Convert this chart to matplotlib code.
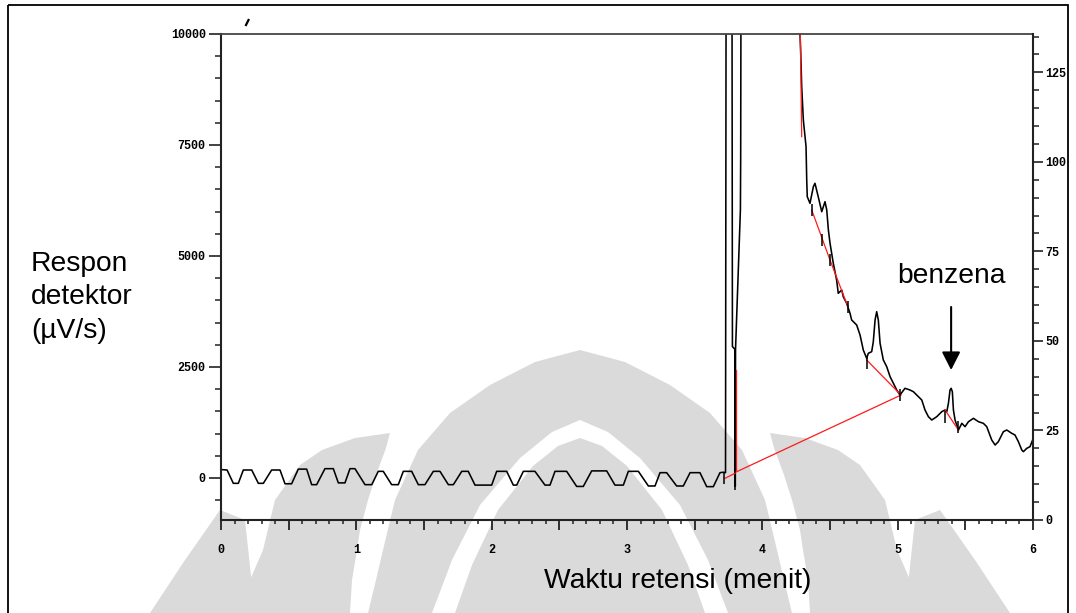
import matplotlib
matplotlib.use("Agg")
import matplotlib.pyplot as plt
from matplotlib.patches import Polygon, Rectangle
from matplotlib.lines import Line2D
from matplotlib.ticker import MultipleLocator, FuncFormatter
from matplotlib.font_manager import FontProperties

# ---------------------------------------------------------------
# Chromatogram data: retention time (min) vs detector response (uV/s)
# ---------------------------------------------------------------
# Baseline ripple before the solvent front
base_t = [0.000, 0.045, 0.091, 0.128, 0.165, 0.227, 0.276, 0.313, 0.374, 0.436,
          0.473, 0.522, 0.571, 0.633, 0.670, 0.707, 0.768, 0.830, 0.867, 0.916,
          0.953, 0.990, 1.064, 1.114, 1.162, 1.199, 1.261, 1.310, 1.347, 1.409,
          1.458, 1.507, 1.569, 1.618, 1.680, 1.717, 1.779, 1.827, 1.877, 2.000,
          2.037, 2.111, 2.160, 2.185, 2.234, 2.320, 2.394, 2.431, 2.468, 2.554,
          2.628, 2.677, 2.739, 2.850, 2.911, 2.973, 3.010, 3.084, 3.158, 3.207,
          3.244, 3.293, 3.367, 3.416, 3.466, 3.539, 3.589, 3.638, 3.687, 3.712]
base_v = [190, 180, -120, -120, 180, 180, -120, -120, 180, 180,
          -130, -130, 200, 200, -150, -150, 210, 210, -110, -110,
          210, 210, -150, -150, 150, 150, -150, -150, 150, 150,
          -150, -150, 150, 150, -150, -150, 150, 150, -160, -160,
          150, 150, -160, -160, 150, 150, -160, -160, 150, 150,
          -190, -190, 160, 160, -160, -160, 150, 150, -180, -180,
          120, 120, -180, -180, 120, 120, -195, -195, 120, 130]

# Solvent front (off-scale readings recorded as 10600)
solvent_t = [3.728, 3.732, 3.776, 3.779, 3.797, 3.800, 3.802, 3.838, 3.840, 3.842,
             4.276]
solvent_v = [120, 10600, 10600, 2960, 2900, -190, 2900, 6040, 7200, 10600,
             10600]

# Tailing region with minor peaks and the benzene peak
tail_t = [4.278, 4.283, 4.291, 4.303, 4.315, 4.323, 4.328, 4.332, 4.352, 4.377,
          4.389, 4.413, 4.439, 4.463, 4.476, 4.488, 4.500, 4.524, 4.549, 4.561,
          4.587, 4.598, 4.623, 4.648, 4.660, 4.697, 4.722, 4.746, 4.771, 4.783,
          4.808, 4.820, 4.833, 4.845, 4.857, 4.870, 4.894, 4.919, 4.944, 4.968,
          4.993, 5.017, 5.054, 5.091, 5.116, 5.153, 5.178, 5.202, 5.227, 5.252,
          5.289, 5.326, 5.350, 5.363, 5.375, 5.387, 5.395, 5.404, 5.412, 5.424,
          5.449, 5.474, 5.498, 5.523, 5.560, 5.597, 5.633, 5.658, 5.695, 5.720,
          5.744, 5.781, 5.806, 5.843, 5.867, 5.892, 5.917, 5.929, 5.954, 5.978,
          6.002]
tail_v = [10020, 9640, 8813, 8063, 7687, 7462, 6712, 6336, 6186, 6561,
          6637, 6336, 5998, 6223, 6036, 5586, 5293, 4842, 4459, 4160,
          4234, 4083, 3934, 3709, 3559, 3446, 3221, 2883, 2695, 2808,
          2845, 3070, 3559, 3746, 3559, 3033, 2658, 2508, 2282, 2133,
          1982, 1869, 2020, 1982, 1944, 1831, 1757, 1532, 1381, 1306,
          1381, 1494, 1532, 1494, 1682, 1982, 2020, 1944, 1532, 1306,
          1081, 1232, 1156, 1268, 1344, 1268, 1232, 1156, 856, 743,
          818, 1043, 1081, 1006, 968, 818, 631, 593, 668, 706,
          893]

# Integration baselines drawn by the data system
red_t = [[3.724, 3.798], [3.806, 3.806], [3.806, 5.025], [4.278, 4.291],
         [4.365, 4.500, 4.633], [4.771, 5.017], [5.350, 5.449]]
red_v = [[-7, 106], [2432, 180], [135, 1869], [10600, 7690],
         [6036, 4910, 3851], [2658, 1892], [1532, 1081]]

# Peak start / end markers
mark_t = [3.720, 3.800, 4.365, 4.439, 4.500, 4.635, 4.775, 5.015, 5.350, 5.449]
mark_v = [0, -130, 6036, 5360, 4910, 3858, 2583, 1869, 1381, 1156]

# Benzene annotation
benz_t = 5.395
benz_label_v = 4392
benz_arrow_from = 3851
benz_arrow_to = 2432

x_ticks = [0, 1, 2, 3, 4, 5, 6]
left_ticks = [0, 2500, 5000, 7500, 10000]
right_ticks = [0, 25, 50, 75, 100, 125]

W, H = 1076, 613
fig = plt.figure(figsize=(W / 100, H / 100), dpi=100)
fig.patch.set_facecolor("white")

# ---------------- background emblem (light grey) ----------------
bg = fig.add_axes([0, 0, 1, 1], zorder=-5)
bg.set_xlim(0, W)
bg.set_ylim(H, 0)
bg.axis("off")
grey = "#dadada"


def mirror(pts):
    return [(1160 - x, y) for x, y in pts]


left_petal = [(240, 613), (250, 580), (263, 550), (275, 500), (300, 465), (322, 450),
              (355, 438), (390, 433), (386, 448), (376, 475), (368, 500), (360, 530),
              (357, 550), (352, 580), (350, 613)]
dome_left = [(368, 613), (376, 580), (383, 550), (395, 500), (418, 450), (450, 413),
             (490, 385), (535, 362), (580, 350)]
arch_outer_left = [(432, 613), (452, 560), (480, 505), (520, 458), (552, 432), (580, 420)]
arch_inner_left = [(455, 613), (472, 565), (498, 510), (533, 466), (558, 446), (580, 438)]
outer_left = [(255, 613), (245, 520), (220, 510), (185, 560), (150, 613)]

dome = dome_left + mirror(dome_left[::-1])[1:]
arch_outer = arch_outer_left + mirror(arch_outer_left[::-1])[1:]
arch_inner = arch_inner_left + mirror(arch_inner_left[::-1])[1:]
for shape in (left_petal, mirror(left_petal), dome, outer_left, mirror(outer_left)):
    bg.add_patch(Polygon(shape, closed=True, facecolor=grey, edgecolor="none"))
bg.add_patch(Polygon(arch_outer, closed=True, facecolor="white", edgecolor="none"))
bg.add_patch(Polygon(arch_inner, closed=True, facecolor=grey, edgecolor="none"))

# outer frame
bg.add_patch(Rectangle((8, 5), 1060, 640, fill=False, edgecolor="black", lw=1.3))
bg.add_line(Line2D([246, 248.5], [25, 20], color="black", lw=1.6))

# ---------------- main axes ----------------
ax = fig.add_axes([221 / W, 1 - 520 / H, 812 / W, 486 / H])
ax.set_facecolor("none")
ax.set_xlim(0, 6)
ax.set_ylim(-946, 10000)

t_all = base_t + solvent_t + tail_t
v_all = base_v + solvent_v + tail_v
ax.plot(t_all, v_all, color="black", lw=1.15, solid_joinstyle="round")
for rt, rv in zip(red_t, red_v):
    ax.plot(rt, rv, color="#ff1a1a", lw=0.9)
ax.plot(mark_t, mark_v, ls="none", marker="|", ms=8, mew=1.1, color="black")

tick_fp = FontProperties(family="Liberation Mono", size=8.5, weight="bold")
for s in ("left", "bottom"):
    ax.spines[s].set_linewidth(1.5)
    ax.spines[s].set_color("#222222")
ax.spines["top"].set_linewidth(1.3)
ax.spines["top"].set_color("#444444")
ax.spines["right"].set_visible(False)

ax.xaxis.set_major_locator(MultipleLocator(0.5))
ax.xaxis.set_minor_locator(MultipleLocator(0.1))
ax.xaxis.set_major_formatter(FuncFormatter(
    lambda v, p: f"{int(round(v))}" if round(v) in x_ticks and abs(v - round(v)) < 1e-6 else ""))
ax.tick_params(axis="x", which="major", direction="out", length=7, width=1.3, pad=10,
               color="#222222", top=False)
ax.tick_params(axis="x", which="minor", direction="out", length=3, width=1.1,
               color="#222222", top=False)

ax.set_yticks(left_ticks)
ax.yaxis.set_minor_locator(MultipleLocator(500))
ax.tick_params(axis="y", which="major", direction="out", length=9, width=1.2, pad=2,
               color="#222222")
ax.tick_params(axis="y", which="minor", direction="out", length=4, width=1.1,
               color="#222222")
for lab in ax.get_xticklabels() + ax.get_yticklabels():
    lab.set_fontproperties(tick_fp)

ax2 = ax.twinx()
ax2.set_ylim(0, 135.7)
for s in ("left", "top", "bottom"):
    ax2.spines[s].set_visible(False)
ax2.spines["right"].set_linewidth(1.5)
ax2.spines["right"].set_color("#222222")
ax2.set_yticks(right_ticks)
ax2.yaxis.set_minor_locator(MultipleLocator(5))
ax2.tick_params(axis="y", which="major", direction="out", length=7, width=1.2, pad=2,
                color="#222222")
ax2.tick_params(axis="y", which="minor", direction="out", length=4, width=1.1,
                color="#222222")
for lab in ax2.get_yticklabels():
    lab.set_fontproperties(tick_fp)

# benzene label and arrow
label_font = dict(family="Liberation Sans", size=20.3)
ax.text(benz_t, benz_label_v, "benzena", ha="center", va="baseline", **label_font)
ax.annotate("", xy=(benz_t, benz_arrow_to), xytext=(benz_t, benz_arrow_from),
            arrowprops=dict(arrowstyle="-|>,head_length=0.55,head_width=0.28",
                            mutation_scale=20, lw=1.5, color="black",
                            shrinkA=0, shrinkB=0))

# axis titles
for txt, yb in (("Respon", 271), ("detektor", 304), ("(µV/s)", 338)):
    fig.text(31 / W, 1 - yb / H, txt, ha="left", va="baseline", **label_font)
fig.text(678 / W, 1 - 588 / H, "Waktu retensi (menit)", ha="center", va="baseline",
         **label_font)

fig.savefig("out.png", dpi=100)
